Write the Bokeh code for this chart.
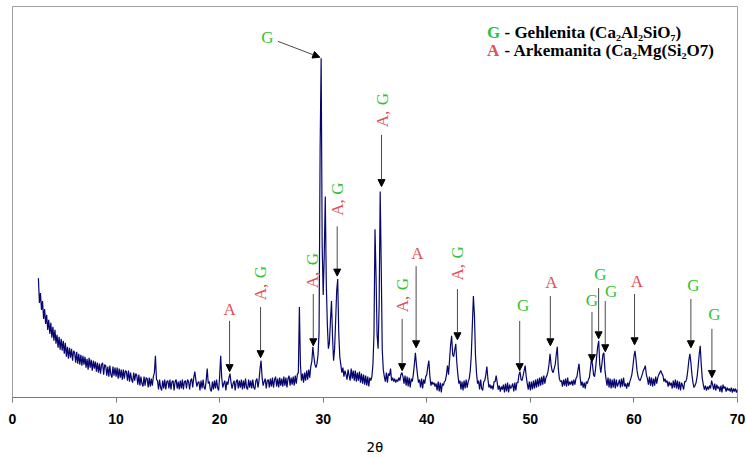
import math
from bokeh.plotting import figure
from bokeh.models import ColumnDataSource, Arrow, NormalHead, FixedTicker, Range1d
from bokeh.embed import file_html
from bokeh.resources import INLINE
from bokeh.core.properties import value

# ---------------- data ----------------
theta_start = 2.5
theta_step = 0.1
intensity = [
    117, 92, 102, 85, 94,                      # 2.5 - 2.9
    76, 86, 71, 80, 65, 75, 61, 72, 57, 68,    # 3
    54, 65, 51, 60, 47, 58, 45, 56, 44, 54,    # 4
    41, 52, 38, 48, 36, 47, 37, 46, 34, 44,    # 5
    42, 32, 43, 31, 41, 30, 40, 29, 39, 30,    # 6
    38, 27, 36, 25, 37, 27, 35, 24, 34, 26,    # 7
    33, 23, 32, 22, 31, 21, 30, 32, 20, 30,    # 8
    29, 19, 28, 18, 29, 20, 17, 28, 19, 27,    # 9
    18, 27, 16, 26, 17, 25, 15, 25, 16, 24,    # 10
    23, 14, 24, 13, 22, 15, 12, 22, 14, 21,    # 11
    19, 10, 20, 9, 18, 11, 8, 18, 9, 17,       # 12
    16, 7, 17, 8, 16, 9, 18, 22, 39, 15,       # 13
    14, 5, 15, 7, 4, 14, 6, 15, 5, 13,         # 14
    14, 6, 15, 5, 13, 14, 4, 13, 15, 6,        # 15
    13, 5, 14, 6, 15, 5, 13, 14, 6, 15,        # 16
    13, 5, 14, 16, 7, 17, 23, 15, 8, 12,       # 17
    13, 4, 14, 6, 15, 7, 5, 14, 26, 11,        # 18
    13, 5, 3, 13, 5, 14, 6, 15, 7, 4,          # 19
    18, 39, 17, 7, 11, 14, 4, 13, 10, 17,      # 20
    21, 12, 6, 11, 14, 4, 13, 15, 6, 14,       # 21
    7, 15, 5, 14, 6, 16, 7, 5, 15, 7,          # 22
    14, 6, 15, 7, 5, 14, 16, 7, 14, 26,        # 23
    34, 17, 9, 13, 16, 6, 14, 15, 7, 16,       # 24
    8, 17, 7, 15, 18, 8, 16, 7, 17, 9,         # 25
    16, 8, 18, 9, 17, 7, 16, 19, 9, 17,        # 26
    10, 18, 9, 19, 11, 20, 22, 88, 30, 14,     # 27
    21, 12, 22, 14, 24, 15, 25, 17, 28, 33,    # 28
    48, 38, 30, 27, 31, 40, 62, 245, 338, 150, # 29
    100, 140, 199, 110, 70, 46, 52, 75, 94, 58,  # 30
    34, 46, 74, 104, 116, 62, 38, 30, 22, 27,  # 31
    18, 24, 20, 15, 25, 19, 14, 26, 16, 24,    # 32
    14, 24, 13, 22, 14, 23, 12, 21, 11, 20,    # 33
    10, 19, 9, 18, 8, 17, 14, 18, 30, 60,      # 34
    166, 120, 60, 46, 90, 204, 130, 45, 25, 18,  # 35
    13, 22, 12, 21, 19, 26, 14, 17, 13, 16,    # 36
    12, 15, 13, 17, 14, 20, 22, 18, 11, 19,    # 37
    9, 18, 8, 17, 7, 16, 13, 20, 30, 42,       # 38
    30, 20, 12, 15, 7, 16, 6, 15, 11, 18,      # 39
    20, 28, 34, 18, 9, 13, 10, 12, 8, 11,      # 40
    4, 13, 3, 12, 2, 11, 9, 13, 14, 20,        # 41
    29, 20, 35, 50, 59, 40, 38, 45, 51, 32,    # 42
    20, 11, 14, 5, 13, 4, 14, 6, 15, 7,        # 43
    13, 16, 24, 40, 70, 99, 80, 40, 22, 11,    # 44
    14, 5, 15, 6, 4, 13, 14, 20, 28, 16,       # 45
    7, 10, 6, 9, 5, 13, 13, 19, 12, 5,         # 46
    9, 3, 8, 5, 10, 2, 11, 3, 12, 2,           # 47
    10, 6, 8, 11, 3, 12, 4, 12, 12, 20,        # 48
    23, 15, 14, 19, 24, 29, 18, 11, 5, 13,     # 49
    4, 13, 5, 14, 6, 15, 7, 16, 8, 17,         # 50
    9, 18, 10, 19, 11, 17, 19, 23, 30, 41,     # 51
    30, 24, 22, 26, 30, 40, 48, 26, 16, 13,    # 52
    14, 8, 15, 9, 16, 8, 17, 9, 13, 10,        # 53
    14, 9, 15, 10, 16, 18, 25, 31, 18, 9,      # 54
    13, 7, 12, 6, 13, 11, 15, 17, 26, 36,      # 55
    30, 20, 18, 26, 38, 48, 54, 30, 22, 30,    # 56
    40, 42, 25, 16, 9, 17, 7, 16, 6, 15,       # 57
    7, 16, 6, 15, 8, 11, 15, 7, 16, 8,         # 58
    17, 8, 11, 6, 12, 8, 13, 16, 20, 28,       # 59
    38, 44, 35, 24, 18, 15, 14, 17, 20, 24,    # 60
    26, 29, 20, 16, 10, 18, 9, 17, 8, 16,      # 61
    9, 18, 11, 17, 20, 22, 24, 21, 19, 13,     # 62
    16, 12, 14, 8, 13, 9, 12, 6, 14, 7,        # 63
    15, 6, 14, 5, 13, 4, 12, 9, 5, 13,         # 64
    13, 16, 24, 34, 41, 32, 20, 12, 7, 9,      # 65
    12, 18, 28, 40, 49, 30, 16, 10, 5, 9,      # 66
    4, 8, 5, 9, 6, 14, 10, 5, 11, 4,           # 67
    10, 6, 8, 3, 9, 2, 10, 6, 8, 3,            # 68
    7, 4, 6, 3, 7, 2, 6, 3, 6, 2,              # 69
    5,                                         # 70
]
two_theta = [round(theta_start + theta_step * i, 2) for i in range(len(intensity))]

x_ticks = [0, 10, 20, 30, 40, 50, 60, 70]

# vertical arrows: position, tail height, tip height
arrow_theta = [20.96, 23.95, 29.04, 31.35, 35.63, 37.62, 38.97, 42.96,
               48.97, 51.93, 55.95, 56.59, 57.23, 60.06, 65.5, 67.53]
arrow_tail = [74, 88, 101, 169, 261, 76, 129, 106, 74, 99, 83, 107, 94, 101, 96, 66]
arrow_tip = [23, 37, 49, 119, 209, 24, 47, 55, 24, 49, 33, 56, 43, 50, 47, 17]

# diagonal arrow to the main Gehlenite peak
diag_start = (25.62, 355)
diag_end = (29.67, 339)

# upright peak labels
lab_text = ["A", "A", "G", "A", "G", "G", "G", "A", "G", "G", "G"]
lab_theta = [20.96, 39.1, 49.3, 52.03, 55.95, 56.75, 57.81, 60.29, 65.75, 67.78, 24.6]
lab_y = [85, 142, 89, 113, 94, 121, 104, 114, 110, 80, 359]

# rotated "A, G" labels: position, centre of "A,", centre of "G"
rot_theta = [23.9, 29.0, 31.4, 35.7, 37.62, 42.96]
rot_a_y = [103, 115, 188, 277, 91, 123]
rot_g_y = [123, 136, 207, 297, 111, 143]

RED = "#e0505a"
GREEN = "#33c233"

# ---------------- figure ----------------
p = figure(width=746, height=457, output_backend="svg", toolbar_location=None,
           x_range=Range1d(0, 70), y_range=Range1d(-3, 390),
           y_axis_location=None, min_border_left=12, min_border_right=9,
           min_border_top=6, min_border_bottom=58)
p.background_fill_color = "white"
p.border_fill_color = "white"
p.outline_line_color = "#a0a0a0"
p.outline_line_width = 1
p.xgrid.grid_line_color = None
p.ygrid.grid_line_color = None

p.line(two_theta, intensity, line_color="#06066e", line_width=1.2)

# axis
ax = p.xaxis[0]
ax.ticker = FixedTicker(ticks=x_ticks)
ax.minor_tick_line_color = None
ax.major_tick_in = 0
ax.major_tick_out = 5
ax.axis_line_color = "#7a7a7a"
ax.major_tick_line_color = "#7a7a7a"
ax.major_label_text_font = "Liberation Sans"
ax.major_label_text_font_style = "bold"
ax.major_label_text_font_size = "14px"
ax.major_label_text_color = "black"
ax.major_label_standoff = 11
ax.axis_label = "2θ"
ax.axis_label_text_font = "DejaVu Sans Mono"
ax.axis_label_text_font_style = "normal"
ax.axis_label_text_font_size = "14px"
ax.axis_label_text_color = "black"
ax.axis_label_standoff = 12

# arrows
arrow_src = ColumnDataSource(dict(x0=arrow_theta, y0=arrow_tail, x1=arrow_theta, y1=arrow_tip))
p.add_layout(Arrow(end=NormalHead(size=7, fill_color="black", line_color="black", line_width=1),
                   source=arrow_src, x_start="x0", y_start="y0", x_end="x1", y_end="y1",
                   line_color="#4a4a4a", line_width=1))
p.add_layout(Arrow(end=NormalHead(size=7, fill_color="black", line_color="black", line_width=1),
                   x_start=diag_start[0], y_start=diag_start[1],
                   x_end=diag_end[0], y_end=diag_end[1],
                   line_color="#4a4a4a", line_width=1))

# upright labels
lab_color = [RED if t == "A" else GREEN for t in lab_text]
p.text(x=lab_theta, y=lab_y, text=lab_text, text_color=lab_color,
       text_font=value("Liberation Serif"), text_font_size="17px",
       text_align="center", text_baseline="middle")

# rotated labels
half_pi = math.pi / 2
p.text(x=rot_theta, y=rot_a_y, text=["A,"] * len(rot_theta), text_color=RED,
       text_font=value("Liberation Serif"), text_font_size="17px", angle=half_pi,
       text_align="center", text_baseline="middle")
p.text(x=rot_theta, y=rot_g_y, text=["G"] * len(rot_theta), text_color=GREEN,
       text_font=value("Liberation Serif"), text_font_size="17px", angle=half_pi,
       text_align="center", text_baseline="middle")

# legend text
leg_key_theta = 45.82
leg_text_theta = 47.5
leg_y = [364, 346]
leg_keys = ["G", "A"]
leg_names = ["- Gehlenita (Ca\u2082Al\u2082SiO\u2087)", "- Arkemanita (Ca\u2082Mg(Si\u2082O7)"]
p.text(x=[leg_key_theta] * 2, y=leg_y, text=leg_keys, text_color=[GREEN, RED],
       text_font=value("Liberation Serif"), text_font_size="17px", text_font_style="bold",
       text_align="left", text_baseline="middle")
p.text(x=[leg_text_theta] * 2, y=leg_y, text=leg_names, text_color="black",
       text_font=value("Liberation Serif"), text_font_size="17px", text_font_style="bold",
       text_align="left", text_baseline="middle")

open("out.html", "w").write(file_html(p, INLINE))
